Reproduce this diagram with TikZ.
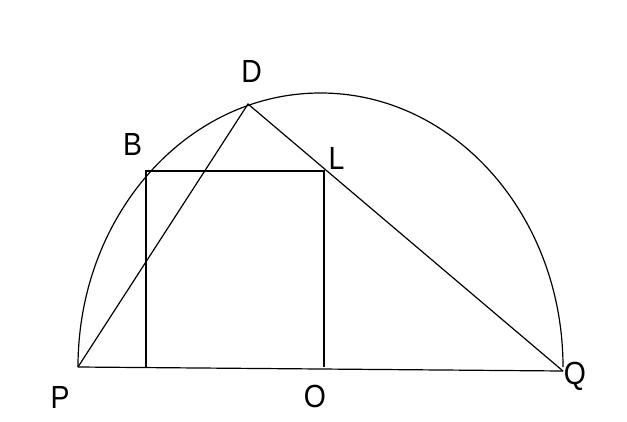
\documentclass[tikz,border=0pt]{standalone}
\usepackage{fontspec}
\setmainfont{Liberation Sans}
\begin{document}
\begin{tikzpicture}[x=1pt,y=-1pt,
  geo/.style={line width=1.2pt,black},
  lbl/.style={inner sep=0pt,anchor=base,font=\fontsize{32}{38}\selectfont}]
\useasboundingbox (0,0) rectangle (627,421);
\coordinate (P) at (78,367);
\coordinate (Q) at (563,371);
\coordinate (D) at (248,104);
\coordinate (B) at (146,171);
\coordinate (L) at (324,171);
\coordinate (O) at (324,367);
\coordinate (Bb) at (146,367);
% semicircle (ellipse arc)
\draw[geo] (P) arc[start angle=180,end angle=360,x radius=242.5,y radius=274];
% base
\draw[geo] (P) -- (Q);
% triangle sides
\draw[geo] (P) -- (D) -- (Q);
% box
\draw[geo] (Bb) -- (B) -- (L) -- (O);
% labels
\node[lbl] (tD) at (251.5,82) {\scalebox{0.887}[1]{D}};
\node[lbl] (tB) at (132.5,155) {\scalebox{0.887}[1]{B}};
\node[lbl] (tL) at (336.5,169) {\scalebox{0.887}[1]{L}};
\node[lbl] (tP) at (60,408) {\scalebox{0.887}[1]{P}};
\node[lbl] (tO) at (315,407.5) {\scalebox{0.887}[1]{O}};
\node[lbl] (tQ) at (575,384.5) {\scalebox{0.887}[1]{Q}};
\end{tikzpicture}
\end{document}
